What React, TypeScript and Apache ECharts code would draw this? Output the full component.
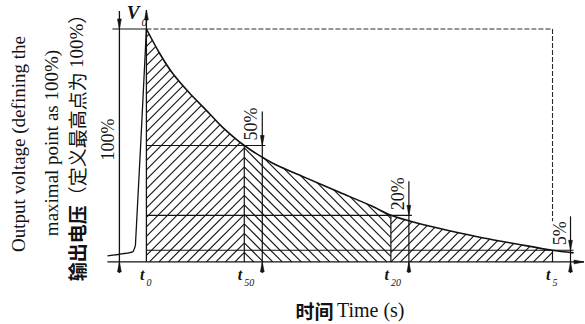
import { useEffect, useRef } from "react";
import * as echarts from "echarts";

// Decay of the output voltage after the peak: time (t0 = 0, t5 = 100) vs % of peak
const decayTime = [0, 3.2, 6.4, 10.6, 14.7, 18.7, 24.1, 31.0, 39.3, 47.4, 55.5, 60.2, 66.6, 74.9, 83.0, 91.2, 100, 105.2];
const decayVolt = [100, 89.7, 81.1, 72.5, 65.2, 57.9, 50, 42.5, 36.1, 30.0, 24.0, 20, 16.7, 13.3, 10.3, 7.7, 5, 3.9];

// Rising front up to the peak
const riseTime = [-9.6, -3.4, -2.7, 0];
const riseVolt = [2.6, 4.3, 7.3, 100];

// Marked instants t0, t50, t20, t5 and the level reached at each
const markSubs = ["0", "50", "20", "5"];
const markTime = [0, 24.1, 60.2, 100];
const markLevel = [100, 50, 20, 5];
const levelLabels = ["100%", "50%", "20%", "5%"];

// Hatch direction of each interval between marks
const hatchDir = ["/", "\\", "/"];

const INK = "#121212";
const SERIF = '"Liberation Serif", "DejaVu Serif", serif';
const CJK = '"Noto Sans CJK SC", "Noto Sans CJK JP", sans-serif';

function renderAnnotations(_params: any, api: any) {
  const P = (t: number, v: number) => api.coord([t, v]) as number[];
  const [x0, base] = P(0, 0);
  const y100 = P(0, 100)[1];
  const W = api.getWidth();
  const curve = decayTime.map((t, i) => P(t, decayVolt[i]));
  const curveY = (x: number) => {
    if (x <= curve[0][0]) return curve[0][1];
    for (let i = 1; i < curve.length; i++) {
      if (x <= curve[i][0]) {
        const [ax, ay] = curve[i - 1];
        const [bx, by] = curve[i];
        return ay + ((by - ay) * (x - ax)) / (bx - ax);
      }
    }
    return curve[curve.length - 1][1];
  };

  const children: any[] = [];
  const seg = (x1: number, y1: number, x2: number, y2: number, w = 1.2, dash?: number[], color = INK) =>
    children.push({
      type: "line",
      shape: { x1, y1, x2, y2 },
      style: { stroke: color, lineWidth: w, lineDash: dash, fill: null },
    });
  const arrow = (x: number, y: number, dir: "up" | "down" | "right") => {
    const L = 10;
    const H = 1.9;
    let pts: number[][];
    if (dir === "up") pts = [[x, y], [x - H, y + L], [x + H, y + L]];
    else if (dir === "down") pts = [[x, y], [x - H, y - L], [x + H, y - L]];
    else pts = [[x, y], [x - L, y - H], [x - L, y + H]];
    children.push({ type: "polygon", shape: { points: pts }, style: { fill: INK, stroke: INK, lineWidth: 0.6 } });
  };
  const text = (x: number, y: number, str: string, font: string, align: string, vAlign: string, rotation = 0) =>
    children.push({
      type: "text",
      x,
      y,
      rotation,
      style: {
        text: str,
        font,
        fill: INK,
        align,
        verticalAlign: vAlign,
        textAlign: align,
        textVerticalAlign: vAlign,
      },
    });

  const markX = markTime.map((t) => P(t, 0)[0]);

  // Hatching between the marks, herringbone at the shared boundaries
  const STEP = 9.5;
  for (let r = 0; r < markX.length - 1; r++) {
    const xa = markX[r];
    const xb = markX[r + 1];
    const slash = hatchDir[r] === "/";
    const ax = r === 0 ? xb : xa;
    const top = curveY(xa);
    for (let k = -90; k <= 90; k++) {
      const yAt = (x: number) => base - k * STEP + (slash ? -(x - ax) : x - ax);
      const yMax = Math.max(yAt(xa), yAt(xb));
      const yMin = Math.min(yAt(xa), yAt(xb));
      if (yMax < top || yMin > base) continue;
      let first = -1;
      let last = -1;
      for (let x = xa; x <= xb + 1e-6; x += 0.25) {
        const y = yAt(x);
        if (y >= curveY(x) - 0.05 && y <= base + 0.05) {
          if (first < 0) first = x;
          last = x;
        }
      }
      if (first < 0 || last - first < 0.5) continue;
      seg(first, yAt(first), last, yAt(last), 1.15, undefined, "#161616");
    }
  }

  // Level lines, boundaries of the intervals and dimension lines
  const DIM = 18;
  for (let j = 1; j < markX.length; j++) {
    const y = P(0, markLevel[j])[1];
    const dimX = markX[j] + DIM;
    seg(x0, y, dimX + 3, y, 1.1);
    seg(markX[j], base, markX[j], y, 1.2);
    seg(dimX, y - 34, dimX, base + 11, 1.2);
    arrow(dimX, y, "down");
    arrow(dimX, base, "up");
    text(dimX - 2, y - 5, levelLabels[j], `18px ${SERIF}`, "left", "bottom", Math.PI / 2);
  }

  // Full-scale dimension (100%)
  const d0 = x0 - 27;
  seg(d0, y100 - 18, d0, base + 11, 1.3);
  arrow(d0, y100, "down");
  arrow(d0, base, "up");
  text(d0 - 2, (y100 + base) / 2 - 6, levelLabels[0], `18px ${SERIF}`, "center", "bottom", Math.PI / 2);

  // Peak level: solid stub, dashed envelope to t5
  seg(x0 - 34, y100, x0, y100, 1.2);
  seg(x0, y100, markX[3], y100, 1.1, [5, 2], "#2a2a2a");
  seg(markX[3], y100, markX[3], P(0, markLevel[3])[1] - 29, 1.1, [5, 2], "#2a2a2a");

  // Voltage axis at t0 and time axis
  seg(x0, base, x0, y100 - 19, 1.3);
  arrow(x0, y100 - 19, "up");
  seg(x0 - 39, base, W - 1, base, 1.3);
  arrow(W - 1, base, "right");

  // V0 label
  text(x0 - 7, y100 - 16, "V", `italic bold 19px ${SERIF}`, "right", "middle");
  text(x0 - 5, y100 - 7, "0", `italic 11px ${SERIF}`, "left", "middle");

  // t labels with subscripts
  for (let j = 0; j < markX.length; j++) {
    text(markX[j] - 2, base + 13, "t", `italic bold 16px ${SERIF}`, "right", "middle");
    text(markX[j], base + 21, markSubs[j], `italic 10px ${SERIF}`, "left", "middle");
  }

  return { type: "group", children };
}

const option: any = {
  animation: false,
  backgroundColor: "#ffffff",
  grid: { left: 105.8, top: 1.04, width: 480.3, height: 321.5, containLabel: false },
  xAxis: { type: "value", min: -10, max: 108, show: false },
  yAxis: { type: "value", min: -26, max: 112, show: false },
  graphic: [
    {
      type: "text",
      x: 18,
      y: 144,
      rotation: Math.PI / 2,
      style: {
        text: "Output voltage (defining the",
        font: `19px ${SERIF}`,
        fill: INK,
        align: "center",
        verticalAlign: "middle",
        textAlign: "center",
        textVerticalAlign: "middle",
      },
    },
    {
      type: "text",
      x: 51,
      y: 143,
      rotation: Math.PI / 2,
      style: {
        text: "maximal point as 100%)",
        font: `19px ${SERIF}`,
        fill: INK,
        align: "center",
        verticalAlign: "middle",
        textAlign: "center",
        textVerticalAlign: "middle",
      },
    },
    {
      type: "text",
      x: 76,
      y: 143,
      rotation: Math.PI / 2,
      style: {
        text: "{a|输出电压}{b|（定义最高点为 }{c|100%}{b|）}",
        fill: INK,
        align: "center",
        verticalAlign: "middle",
        textAlign: "center",
        textVerticalAlign: "middle",
        rich: {
          a: { fontFamily: CJK, fontWeight: "bold", fontSize: 19, fill: INK },
          b: { fontFamily: CJK, fontWeight: "normal", fontSize: 19, fill: INK },
          c: { fontFamily: SERIF, fontSize: 19, fill: INK },
        },
      },
    },
    {
      type: "text",
      x: 350,
      y: 310,
      style: {
        text: "{a|时间} {b|Time (s)}",
        fill: INK,
        align: "center",
        verticalAlign: "middle",
        textAlign: "center",
        textVerticalAlign: "middle",
        rich: {
          a: { fontFamily: CJK, fontWeight: "bold", fontSize: 19, fill: INK },
          b: { fontFamily: SERIF, fontSize: 20, fill: INK },
        },
      },
    },
  ],
  series: [
    {
      type: "custom",
      coordinateSystem: "cartesian2d",
      data: [[0, 0]],
      encode: { x: 0, y: 1 },
      renderItem: renderAnnotations,
      silent: true,
      z: 1,
    },
    {
      type: "line",
      data: decayTime.map((t, i) => [t, decayVolt[i]]),
      smooth: 0.3,
      symbol: "none",
      lineStyle: { color: INK, width: 1.6 },
      silent: true,
      z: 3,
    },
    {
      type: "line",
      data: riseTime.map((t, i) => [t, riseVolt[i]]),
      smooth: 0.15,
      symbol: "none",
      lineStyle: { color: INK, width: 1.3 },
      silent: true,
      z: 3,
    },
  ],
};

export default function App() {
  const ref = useRef<HTMLDivElement>(null);
  useEffect(() => {
    const chart = echarts.init(ref.current!, null, { renderer: "svg" });
    chart.setOption(option);
    return () => chart.dispose();
  }, []);
  return (
    <div
      ref={ref}
      style={{ position: "absolute", left: 0, top: 0, width: 585, height: 324, background: "#fff" }}
    />
  );
}
